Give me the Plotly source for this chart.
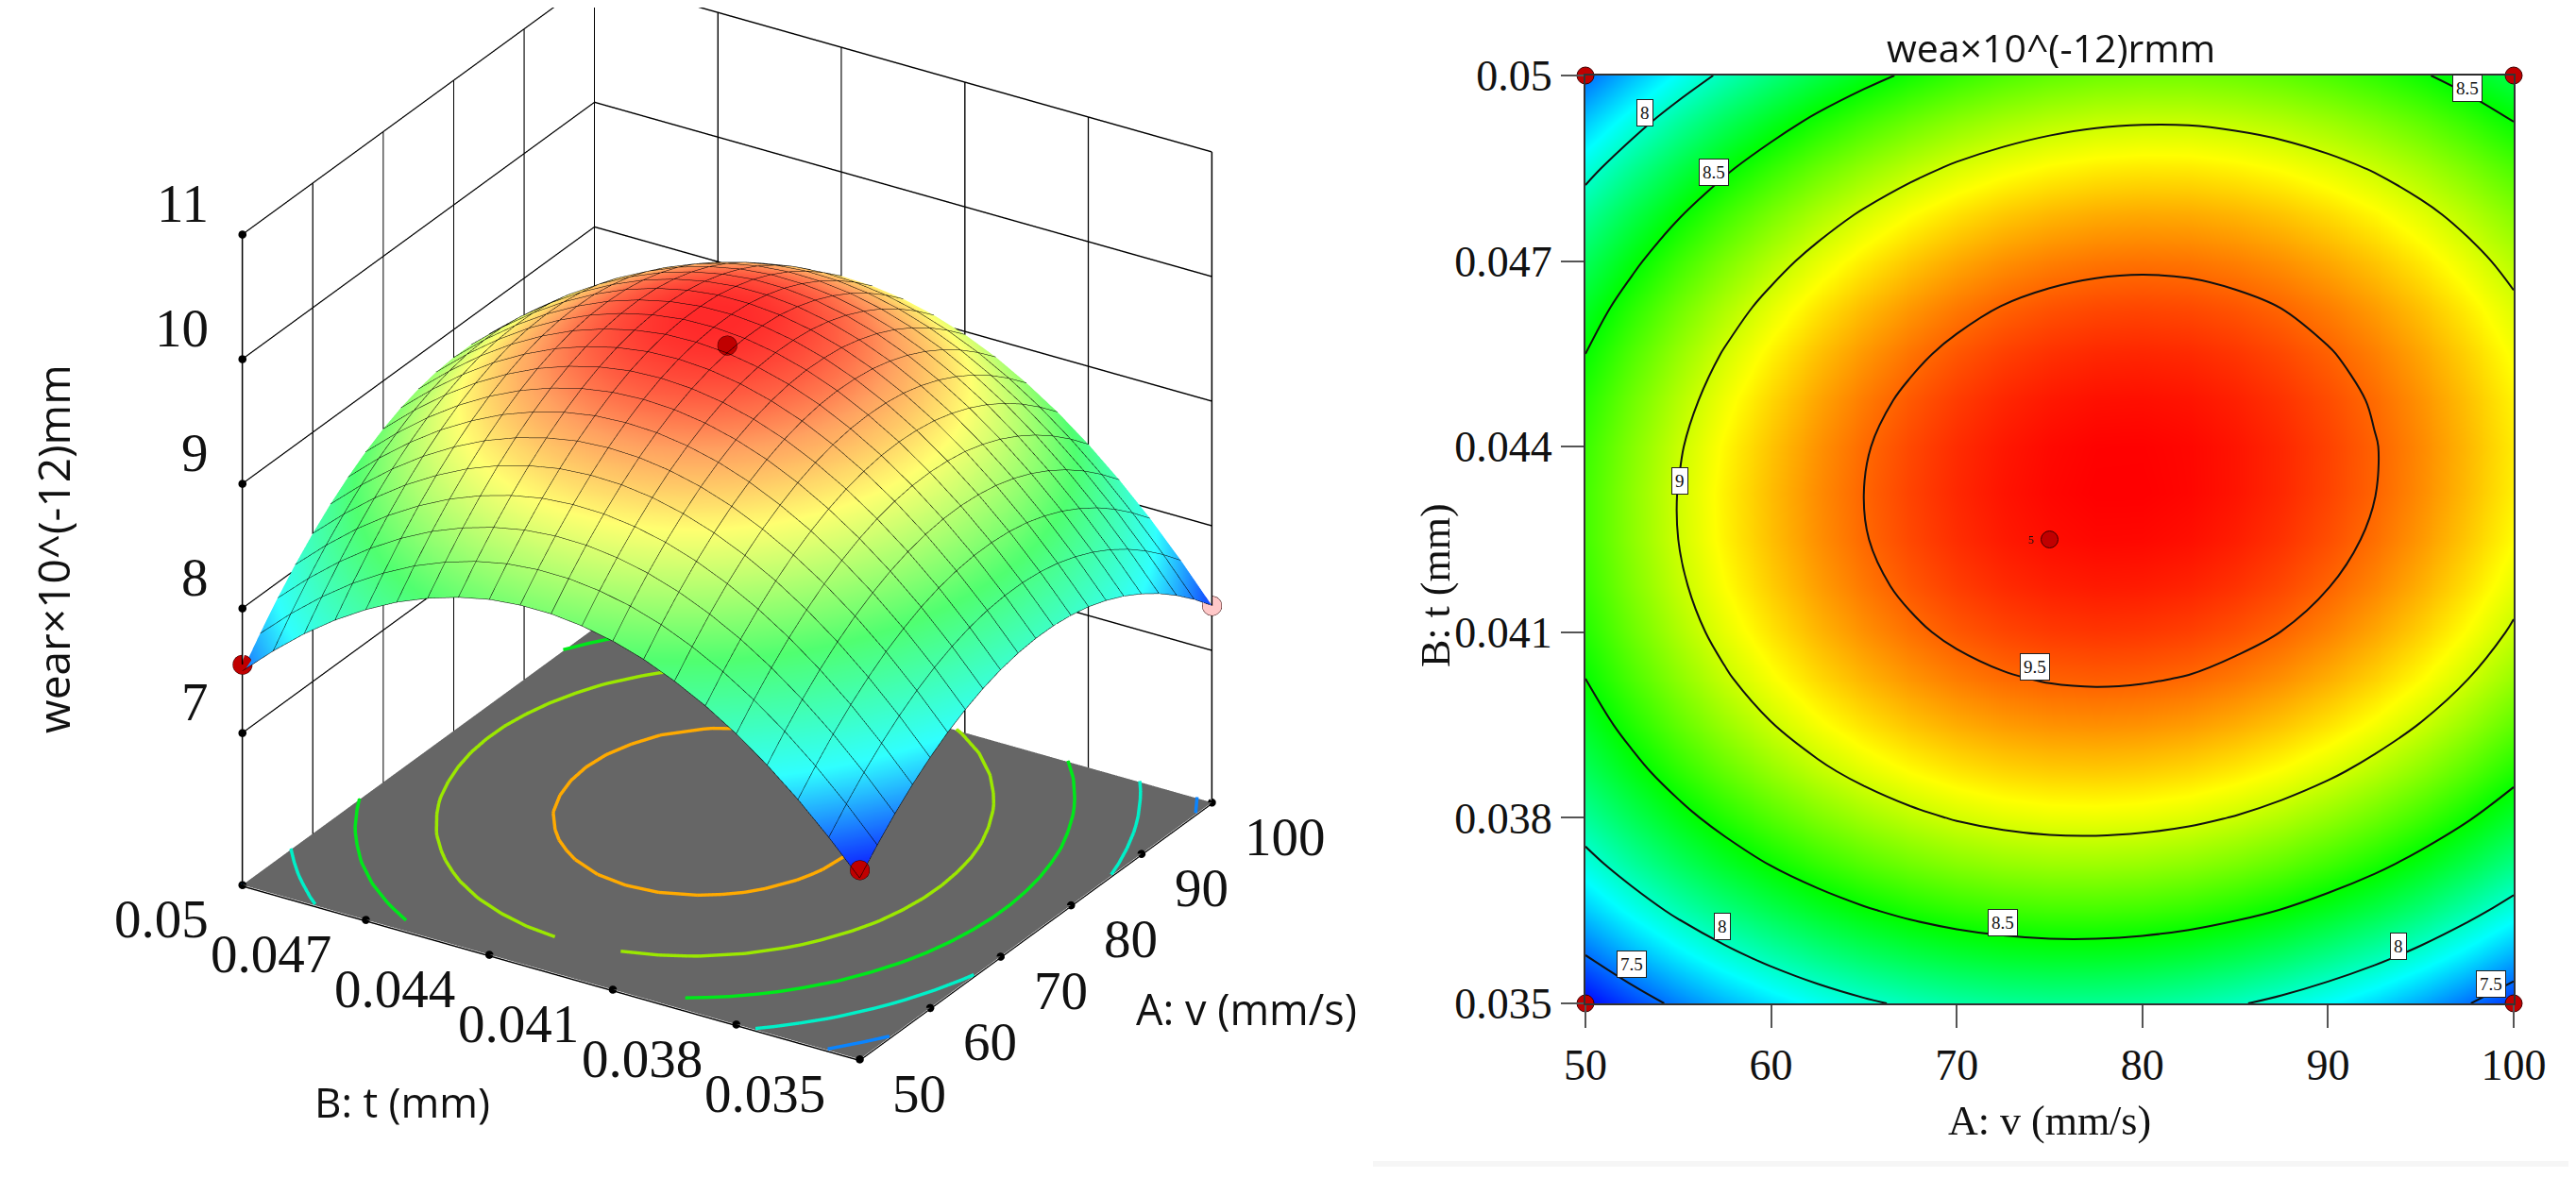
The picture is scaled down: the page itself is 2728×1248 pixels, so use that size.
import numpy as np
import plotly.graph_objects as go

W, H = 2712, 1232   # page body adds an 8 px margin on each side


def fx(px):
    return (px - 8) / W


def fy(py):
    return 1 - (py - 8) / H


v_grid = [50, 52.5, 55, 57.5, 60, 62.5, 65, 67.5, 70, 72.5, 75, 77.5, 80, 82.5, 85, 87.5, 90, 92.5, 95, 97.5, 100]
t_grid = [0.035, 0.03575, 0.0365, 0.03725, 0.038, 0.03875, 0.0395, 0.04025, 0.041, 0.04175, 0.0425,
          0.04325, 0.044, 0.04475, 0.0455, 0.04625, 0.047, 0.04775, 0.0485, 0.04925, 0.05]
# wear, one row per t, one column per v
wear = [
 [7.234,7.397,7.545,7.676,7.790,7.888,7.968,8.033,8.081,8.112,8.127,8.125,8.106,8.072,8.019,7.951,7.866,7.765,7.647,7.512,7.361],
 [7.491,7.656,7.806,7.938,8.054,8.154,8.236,8.302,8.352,8.385,8.401,8.401,8.384,8.351,8.300,8.234,8.151,8.051,7.935,7.802,7.652],
 [7.725,7.891,8.043,8.177,8.294,8.396,8.479,8.548,8.599,8.633,8.652,8.653,8.638,8.607,8.557,8.493,8.411,8.314,8.199,8.067,7.920],
 [7.931,8.099,8.252,8.388,8.508,8.611,8.696,8.766,8.819,8.855,8.875,8.878,8.864,8.835,8.788,8.725,8.645,8.549,8.436,8.306,8.160],
 [8.112,8.281,8.436,8.574,8.695,8.800,8.886,8.958,9.013,9.051,9.073,9.077,9.065,9.038,8.992,8.931,8.852,8.758,8.647,8.519,8.375],
 [8.267,8.438,8.595,8.734,8.857,8.963,9.052,9.125,9.182,9.221,9.245,9.251,9.241,9.215,9.171,9.111,9.035,8.942,8.833,8.706,8.564],
 [8.395,8.568,8.727,8.868,8.992,9.100,9.190,9.266,9.324,9.365,9.390,9.398,9.390,9.366,9.323,9.265,9.190,9.100,8.992,8.867,8.726],
 [8.500,8.675,8.834,8.977,9.103,9.213,9.305,9.382,9.442,9.485,9.512,9.522,9.514,9.492,9.451,9.395,9.322,9.233,9.127,9.004,8.865],
 [8.577,8.754,8.915,9.060,9.187,9.299,9.393,9.471,9.533,9.577,9.606,9.618,9.612,9.592,9.552,9.498,9.427,9.339,9.235,9.113,8.976],
 [8.628,8.807,8.970,9.116,9.246,9.359,9.454,9.535,9.598,9.644,9.674,9.688,9.684,9.665,9.628,9.575,9.505,9.420,9.317,9.197,9.061],
 [8.655,8.835,9.000,9.148,9.279,9.394,9.491,9.573,9.638,9.686,9.718,9.733,9.731,9.714,9.678,9.627,9.559,9.475,9.374,9.256,9.122],
 [8.655,8.837,9.004,9.153,9.286,9.403,9.501,9.585,9.652,9.702,9.735,9.752,9.752,9.736,9.702,9.653,9.586,9.504,9.405,9.289,9.156],
 [8.631,8.814,8.982,9.134,9.268,9.387,9.487,9.572,9.641,9.692,9.728,9.746,9.747,9.734,9.701,9.654,9.589,9.508,9.411,9.296,9.166],
 [8.578,8.763,8.933,9.086,9.222,9.342,9.445,9.532,9.602,9.655,9.692,9.712,9.715,9.703,9.672,9.626,9.564,9.485,9.389,9.276,9.147],
 [8.500,8.687,8.859,9.014,9.152,9.273,9.377,9.466,9.538,9.593,9.631,9.653,9.658,9.648,9.619,9.574,9.513,9.436,9.342,9.231,9.103],
 [8.399,8.587,8.761,8.917,9.057,9.180,9.286,9.376,9.450,9.506,9.547,9.570,9.577,9.568,9.541,9.498,9.439,9.363,9.271,9.161,9.036],
 [8.269,8.459,8.635,8.793,8.934,9.059,9.166,9.259,9.334,9.392,9.434,9.459,9.468,9.461,9.435,9.394,9.336,9.263,9.172,9.064,8.940],
 [8.115,8.307,8.484,8.644,8.787,8.914,9.023,9.117,9.194,9.254,9.297,9.324,9.334,9.329,9.305,9.266,9.210,9.138,9.049,8.943,8.820],
 [7.935,8.128,8.307,8.469,8.613,8.742,8.852,8.948,9.027,9.088,9.134,9.162,9.174,9.171,9.148,9.111,9.056,8.986,8.899,8.794,8.674],
 [7.728,7.924,8.104,8.267,8.413,8.544,8.656,8.753,8.834,8.897,8.944,8.975,8.988,8.986,8.965,8.930,8.877,8.808,8.723,8.620,8.501],
 [7.497,7.694,7.876,8.041,8.189,8.321,8.435,8.534,8.616,8.681,8.730,8.762,8.777,8.777,8.758,8.724,8.673,8.606,8.522,8.421,8.304],
]
contour_levels = [7.5, 8.0, 8.5, 9.0, 9.5]
floor_colors = ["#0a84ff", "#00f0c8", "#00e81a", "#9be800", "#ffaa00"]

v_ticks = [50, 60, 70, 80, 90, 100]
t_ticks = [0.035, 0.038, 0.041, 0.044, 0.047, 0.05]
t_ticktext = ["0.035", "0.038", "0.041", "0.044", "0.047", "0.05"]
z_ticks = [7, 8, 9, 10, 11]
z_floor = 5.78

design_v = [50, 100, 50, 100, 75]
design_t = [0.05, 0.05, 0.035, 0.035, 0.0425]
design_z = [7.55, 8.30, 7.30, 7.36, 9.78]
design_c = ["#c00000", "#c00000", "#c00000", "#ffc8c8", "#c00000"]

label_text = ["8", "8.5", "8.5", "9", "9.5", "8.5", "8", "7.5", "8", "7.5"]
label_v = [53.2, 56.9, 97.5, 55.1, 74.2, 72.5, 57.4, 52.5, 93.8, 98.8]
label_t = [0.0494, 0.04843, 0.0498, 0.04344, 0.04044, 0.0363, 0.03625, 0.03564, 0.03593, 0.03532]

rainbow = [[0, "#0000ff"], [0.25, "#00ffff"], [0.5, "#00ff00"], [0.75, "#ffff00"], [1, "#ff0000"]]
rainbow_lit = [[0, "#0a10ff"], [0.25, "#30ffff"], [0.5, "#50ff70"], [0.75, "#ffff70"], [0.88, "#ffa060"], [1, "#ff2a2a"]]
SERIF = "Liberation Serif"
SANS = "Open Sans"
INK = "#111111"


def contour_segments(xs, ys, zz, level):
    """Marching squares over the table, returning polyline pieces split by None."""
    px, py = [], []
    zz = np.asarray(zz)
    for j in range(len(ys) - 1):
        for i in range(len(xs) - 1):
            c = [(xs[i], ys[j], zz[j, i]), (xs[i + 1], ys[j], zz[j, i + 1]),
                 (xs[i + 1], ys[j + 1], zz[j + 1, i + 1]), (xs[i], ys[j + 1], zz[j + 1, i])]
            pts = []
            for k in range(4):
                a, b = c[k], c[(k + 1) % 4]
                if (a[2] - level) * (b[2] - level) < 0:
                    f = (level - a[2]) / (b[2] - a[2])
                    pts.append((a[0] + f * (b[0] - a[0]), a[1] + f * (b[1] - a[1])))
            for s in range(0, len(pts) - 1, 2):
                px += [pts[s][0], pts[s + 1][0], None]
                py += [pts[s][1], pts[s + 1][1], None]
    return px, py


fig = go.Figure()

fig.add_trace(go.Surface(
    x=[50, 100], y=[0.035, 0.05], z=[[z_floor, z_floor], [z_floor, z_floor]],
    surfacecolor=[[0, 0], [0, 0]], colorscale=[[0, "#666666"], [1, "#666666"]],
    showscale=False, hoverinfo="skip",
    lighting=dict(ambient=1, diffuse=0, specular=0, fresnel=0),
))
for lev, col in zip(contour_levels, floor_colors):
    cx, cy = contour_segments(v_grid, t_grid, wear, lev)
    fig.add_trace(go.Scatter3d(
        x=cx, y=cy, z=[None if a is None else z_floor + 0.01 for a in cx],
        mode="lines", line=dict(color=col, width=7), showlegend=False, hoverinfo="skip"))

fig.add_trace(go.Surface(
    x=v_grid, y=t_grid, z=wear, colorscale=rainbow_lit, cmin=7.23, cmax=9.75, showscale=False,
    lighting=dict(ambient=1.0, diffuse=0.25, specular=0.5, roughness=0.5, fresnel=0.2),
    lightposition=dict(x=-5000, y=1500, z=2500),
    contours=dict(
        x=dict(show=True, start=50, end=100, size=2.5, color="#000000", width=3),
        y=dict(show=True, start=0.035, end=0.05, size=0.00075, color="#000000", width=3),
    ),
))
fig.add_trace(go.Scatter3d(x=design_v, y=design_t, z=design_z, mode="markers",
                           marker=dict(size=12, color=design_c, line=dict(color="#300000", width=1)),
                           showlegend=False))
fig.add_trace(go.Scatter3d(
    x=v_ticks + [50] * len(t_ticks) + [50] * len(z_ticks),
    y=[0.035] * len(v_ticks) + t_ticks + [0.05] * len(z_ticks),
    z=[z_floor] * (len(v_ticks) + len(t_ticks)) + z_ticks,
    mode="markers", marker=dict(size=5, color="#000000"), showlegend=False))

axis3d = dict(showbackground=True, backgroundcolor="#ffffff", gridcolor="#000000", gridwidth=3,
              showline=True, linecolor="#000000", linewidth=3, zeroline=False, showspikes=False,
              ticks="", title=dict(text=""), showticklabels=False)

scene_ann = []
for val in v_ticks:
    scene_ann.append(dict(x=val, y=0.035, z=z_floor, text=str(val), showarrow=False, xanchor="left",
                          yanchor="middle", xshift=33, yshift=-36, font=dict(family=SERIF, size=57, color=INK)))
for val, txt in zip(t_ticks, t_ticktext):
    scene_ann.append(dict(x=50, y=val, z=z_floor, text=txt, showarrow=False, xanchor="right",
                          yanchor="middle", xshift=-34, yshift=-36, font=dict(family=SERIF, size=57, color=INK)))
for val in z_ticks:
    scene_ann.append(dict(x=50, y=0.05, z=val, text=str(val), showarrow=False, xanchor="right",
                          yanchor="middle", xshift=-34, yshift=33, font=dict(family=SERIF, size=57, color=INK)))

CAM_DROP = 0.135
fig.update_layout(
    width=W, height=H, autosize=False, margin=dict(l=0, r=0, t=0, b=0),
    paper_bgcolor="#ffffff", plot_bgcolor="#ffffff", showlegend=False,
    scene=dict(
        domain=dict(x=[0, 1524 / W], y=[0, 1]),
        aspectmode="manual", aspectratio=dict(x=1.146, y=1.25, z=1.258),
        camera=dict(eye=dict(x=-0.90, y=-0.56, z=0.54 - CAM_DROP), center=dict(x=0, y=0, z=-CAM_DROP),
                    up=dict(x=0, y=0, z=1), projection=dict(type="orthographic")),
        xaxis=dict(axis3d, range=[50, 100], tickvals=v_ticks),
        yaxis=dict(axis3d, range=[0.035, 0.05], tickvals=t_ticks, ticktext=t_ticktext),
        zaxis=dict(axis3d, range=[z_floor - 0.01, 11], tickvals=z_ticks),
        annotations=scene_ann,
    ),
)

# Right panel: contour map
fig.add_trace(go.Heatmap(x=v_grid, y=t_grid, z=wear, colorscale=rainbow, zmin=7.23, zmax=9.75,
                         zsmooth="best", showscale=False, xaxis="x", yaxis="y"))
fig.add_trace(go.Contour(x=v_grid, y=t_grid, z=wear, showscale=False, xaxis="x", yaxis="y",
                         autocontour=False,
                         contours=dict(coloring="none", start=7.5, end=9.5, size=0.5, showlabels=False),
                         line=dict(color=INK, width=2, smoothing=1.0)))
fig.add_trace(go.Scatter(x=design_v, y=design_t, mode="markers", cliponaxis=False, xaxis="x", yaxis="y",
                         marker=dict(size=18, color="#c00000", line=dict(color="#400000", width=1)),
                         showlegend=False))
axis2d = dict(showline=True, linecolor="#333333", linewidth=2, mirror=True, ticks="outside", ticklen=24,
              tickwidth=2, tickcolor="#555555", showgrid=False, zeroline=False, automargin=False,
              tickfont=dict(family=SERIF, size=46, color=INK))
fig.update_layout(
    xaxis=dict(axis2d, domain=[fx(1679), fx(2662)], range=[50, 100], tickvals=v_ticks),
    yaxis=dict(axis2d, domain=[fy(1063), fy(80)], range=[0.035, 0.05], tickvals=t_ticks,
               ticktext=t_ticktext),
    shapes=[
        dict(type="rect", xref="paper", yref="paper", x0=fx(1454), x1=1, y0=fy(1236), y1=fy(1230),
             fillcolor="#f6f6f6", line=dict(width=0), layer="below"),
    ],
)

ann = [
    dict(x=fx(2172), y=fy(50), text="wea×10^(-12)rmm", font=dict(family=SANS, size=41, color=INK)),
    dict(x=fx(2170), y=fy(1187), text="A: v (mm/s)", font=dict(family=SERIF, size=44, color=INK)),
    dict(x=fx(1520), y=fy(620), text="B: t (mm)", textangle=-90, font=dict(family=SERIF, size=44, color=INK)),
    dict(x=fx(1320), y=fy(1068), text="A: v (mm/s)", font=dict(family=SANS, size=45, color=INK)),
    dict(x=fx(426), y=fy(1167), text="B: t (mm)", font=dict(family=SANS, size=44, color=INK)),
    dict(x=fx(56), y=fy(582), text="wear×10^(-12)mm", textangle=-90, font=dict(family=SANS, size=46, color=INK)),
]
for a in ann:
    a.update(xref="paper", yref="paper", showarrow=False, xanchor="center", yanchor="middle")
for s, lv, lt in zip(label_text, label_v, label_t):
    ann.append(dict(x=lv, y=lt, xref="x", yref="y", text=s, showarrow=False, bgcolor="#ffffff",
                    bordercolor="#222222", borderwidth=1, borderpad=3,
                    font=dict(family=SERIF, size=19, color=INK)))
ann.append(dict(x=75, y=0.0425, xref="x", yref="y", text="5", showarrow=False, xshift=-20,
                font=dict(family=SERIF, size=12, color=INK)))
fig.update_layout(annotations=ann)

fig.write_html("out.html")
